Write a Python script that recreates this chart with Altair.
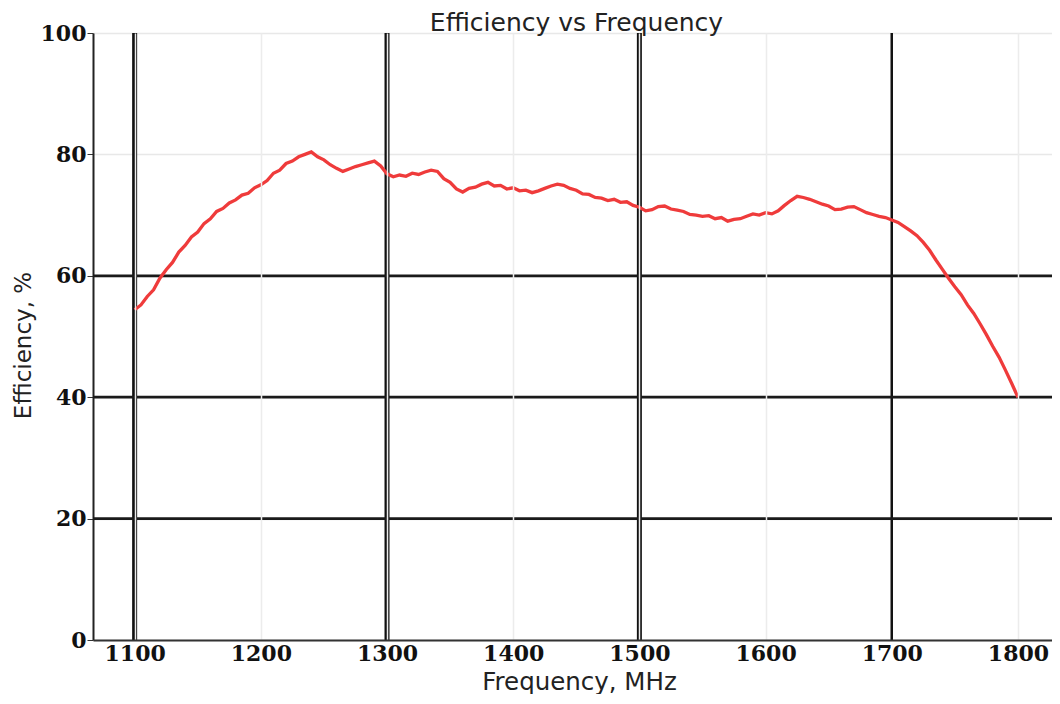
import altair as alt
import pandas as pd

freq = list(range(1100, 1805, 5))
eff = [
    54.4, 55.2, 56.6, 57.7, 59.6, 61.0, 62.2, 63.9, 65.0, 66.4,
    67.2, 68.6, 69.4, 70.6, 71.1, 72.0, 72.5, 73.3, 73.6, 74.5,
    75.0, 75.7, 76.9, 77.4, 78.5, 78.9, 79.6, 80.0, 80.4, 79.6,
    79.1, 78.3, 77.7, 77.2, 77.6, 78.0, 78.3, 78.6, 78.9, 78.1,
    76.8, 76.3, 76.6, 76.4, 76.9, 76.7, 77.1, 77.4, 77.2, 76.0,
    75.4, 74.3, 73.8, 74.4, 74.6, 75.1, 75.4, 74.8, 74.9, 74.3,
    74.5, 74.0, 74.1, 73.7, 74.0, 74.4, 74.8, 75.1, 74.9, 74.4,
    74.1, 73.5, 73.4, 72.9, 72.8, 72.4, 72.6, 72.1, 72.2, 71.6,
    71.3, 70.7, 70.9, 71.4, 71.5, 71.0, 70.8, 70.6, 70.1, 70.0,
    69.8, 69.9, 69.4, 69.6, 69.0, 69.3, 69.4, 69.8, 70.2, 70.0,
    70.4, 70.2, 70.7, 71.6, 72.4, 73.1, 72.9, 72.6, 72.2, 71.8,
    71.5, 70.9, 71.0, 71.3, 71.4, 70.9, 70.4, 70.1, 69.8, 69.6,
    69.2, 68.8, 68.1, 67.4, 66.6, 65.5, 64.2, 62.6, 61.1, 59.6,
    58.2, 56.9, 55.2, 53.8, 52.1, 50.3, 48.4, 46.6, 44.5, 42.3,
    40.0,
]
x_ticks = [1100, 1200, 1300, 1400, 1500, 1600, 1700, 1800]
y_ticks = [0, 20, 40, 60, 80, 100]
double_v = [1100, 1300, 1500]
single_v = [1700]
h_lines = [20, 40, 60]

df = pd.DataFrame({"freq": freq[:len(eff)], "eff": eff})

xs = alt.Scale(domain=[1067, 1827], nice=False, zero=False)
ys = alt.Scale(domain=[0, 100], nice=False)

x_axis = alt.Axis(values=x_ticks, format="d", title="Frequency, MHz", grid=True,
                  gridColor="#ececec", gridWidth=1.5,
                  gridOpacity={"condition": {"test": "datum.value == 1700", "value": 0}, "value": 1},
                  zindex=1, domainColor="#333", domainWidth=2, tickSize=0,
                  labelPadding=3, labelFont="DejaVu Serif", labelFontWeight="bold",
                  labelFontSize=22, labelColor="#111", titleFont="DejaVu Sans",
                  titleFontSize=24.5, titleFontWeight="normal", titleColor="#222",
                  titlePadding=6, titleX=486, labelFlush=False)
y_axis = alt.Axis(values=y_ticks, format="d", title="Efficiency, %", grid=True,
                  gridColor="#e8e8e8", gridWidth=1.5, domainColor="#222", domainWidth=2,
                  tickSize=6, tickColor="#333", labelPadding=1, labelFont="DejaVu Serif",
                  labelFontWeight="bold", labelFontSize=22, labelColor="#111",
                  titleFont="DejaVu Sans", titleFontSize=23, titleFontWeight="normal",
                  titleColor="#222", titlePadding=5, titleY=312, labelFlush=False)

line = alt.Chart(df).mark_line(color="#ef3b3b", strokeWidth=3.3).encode(
    x=alt.X("freq:Q", scale=xs, axis=x_axis),
    y=alt.Y("eff:Q", scale=ys, axis=y_axis),
)

dv = alt.Chart(pd.DataFrame({"f": double_v})).mark_rule(color="#111", strokeWidth=5).encode(
    x=alt.X("f:Q", scale=xs)
)
sv = alt.Chart(pd.DataFrame({"f": single_v})).mark_rule(color="#111", strokeWidth=2.5).encode(
    x=alt.X("f:Q", scale=xs)
)
hl = alt.Chart(pd.DataFrame({"e": h_lines})).mark_rule(color="#1a1a1a", strokeWidth=2.7).encode(
    y=alt.Y("e:Q", scale=ys)
)

chart = alt.layer(dv, sv, hl, line).properties(
    width=959,
    height=607,
    title=alt.TitleParams("Efficiency vs Frequency", font="DejaVu Sans", fontSize=25,
                          fontWeight="normal", color="#222", offset=-14, dx=4),
    autosize=alt.AutoSizeParams(type="none"),
    padding={"left": 85, "top": 25, "right": 0, "bottom": 54},
    background="white",
).configure_view(stroke=None)

chart.save("out.html", embed_options={"renderer": "svg", "actions": False})
